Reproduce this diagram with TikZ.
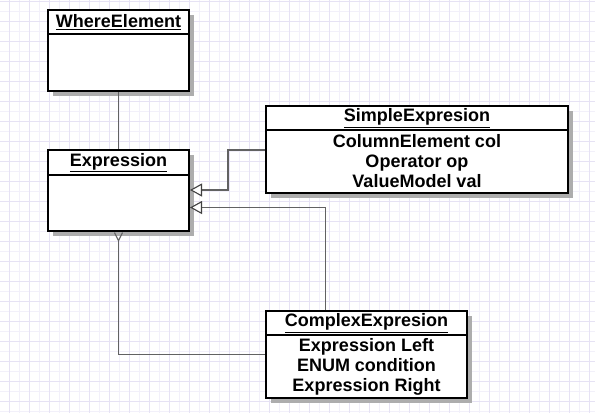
\documentclass[tikz,border=0pt]{standalone}
\usepackage{fontspec}
\setmainfont{Liberation Sans}
\usepackage{tikz}
\usetikzlibrary{arrows.meta,shadows}

\definecolor{gridlt}{HTML}{F2F0FA}
\definecolor{griddk}{HTML}{E6E2F4}
\definecolor{linegray}{HTML}{626262}

\begin{document}
\begin{tikzpicture}[x=1pt,y=-1pt]
			\tikzstyle{cls}=[draw,line width=2pt,fill=white,inner sep=0pt,outer sep=0pt,anchor=north west,
				font=\bfseries\fontsize{18}{20}\selectfont,align=center,
				drop shadow={shadow xshift=5pt,shadow yshift=-5pt,fill=black!32,opacity=1}]
			\tikzstyle{conn}=[draw=linegray,line width=1.6pt]
			\tikzstyle{inh}=[conn,-{Triangle[open,length=12pt,width=13pt,fill=white,line width=1.1pt,color=black!75]}]
			\useasboundingbox (0,0) rectangle (595,413);
			\fill[white] (0,0) rectangle (595,413);
			% grid
			\foreach \x in {9.3,19.3,...,595} \draw[gridlt,line width=1pt] (\x,0) -- (\x,413);
			\foreach \y in {1.7,11.7,...,413} \draw[gridlt,line width=1pt] (0,\y) -- (595,\y);
			\foreach \x in {9.3,29.3,...,595} \draw[griddk,line width=1pt] (\x,0) -- (\x,413);
			\foreach \y in {1.7,21.7,...,413} \draw[griddk,line width=1pt] (0,\y) -- (595,\y);
				% classes
				\node [cls,minimum width=141pt,minimum height=24pt] (whereHead) at (48,10) {\underline{WhereElement}};
				\node [cls,minimum width=141pt,minimum height=57pt] (whereBody) at (whereHead.south west) {};
				\node [cls,minimum width=141pt,minimum height=25pt] (exprHead) at (48,150) {\underline{Expression}};
				\node [cls,minimum width=141pt,minimum height=56pt] (exprBody) at (exprHead.south west) {};
				\node [cls,minimum width=302pt,minimum height=24pt] (simpleHead) at (266,106) {\underline{SimpleExpresion}};
				\node [cls,minimum width=302pt,minimum height=63pt] (simpleBody) at (simpleHead.south west) {ColumnElement col\\Operator op\\ValueModel val};
				\node [cls,minimum width=201pt,minimum height=24pt] (complexHead) at (266,311) {\underline{ComplexExpresion}};
				\node [cls,minimum width=201pt,minimum height=63pt] (complexBody) at (complexHead.south west) {Expression Left\\ENUM condition\\Expression Right};
				% connectors
				\draw [conn,shorten <=1pt,shorten >=1pt] (whereBody.south) -- (exprHead.north);
				\draw [inh,shorten <=1pt,shorten >=1pt] ([yshift=11.5pt]simpleBody.west) -- ++(-38,0) |- ([yshift=13pt]exprBody.east);
				\draw [inh,shorten <=1pt,shorten >=1pt] ([xshift=-41pt]complexHead.north) |- ([yshift=-4.5pt]exprBody.east);
				\draw [conn,shorten <=1pt,shorten >=1pt,{Straight Barb[reversed,length=8pt,width=8pt,line width=1.1pt]}-] (exprBody.south) |- ([yshift=12pt]complexBody.west);
	\end{tikzpicture}
\end{document}
